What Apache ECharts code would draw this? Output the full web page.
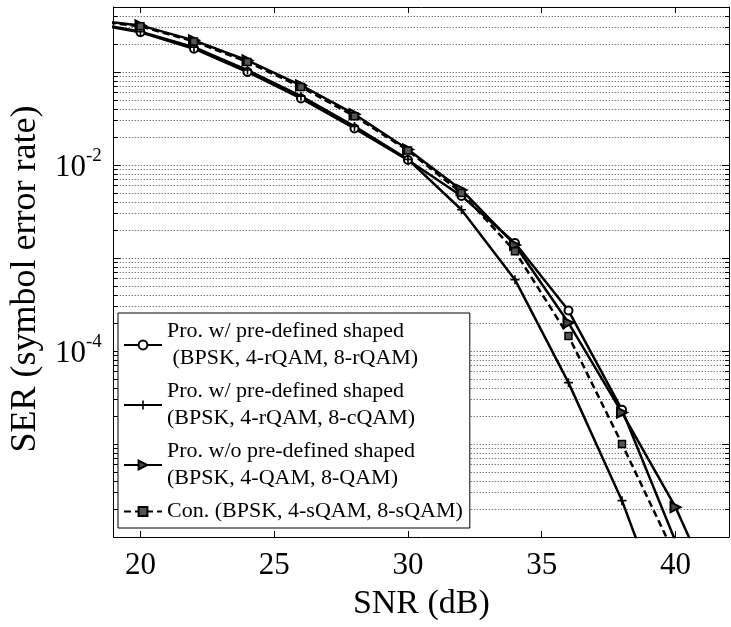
<!DOCTYPE html>
<html><head><meta charset="utf-8">
<script src="https://cdn.jsdelivr.net/npm/echarts@6/dist/echarts.min.js"></script>
<style>html,body{margin:0;padding:0;background:#fff}#c{width:731px;height:627px}</style>
</head><body><div id="c"></div>
<script>
const snr      = [18, 20, 22, 24, 26, 28, 30, 32, 34, 36, 38, 40, 42];
const serRQAM  = [0.339, 0.267, 0.178, 0.100, 0.052, 0.0247, 0.0113, 4.65e-3, 1.45e-3, 2.72e-4, 2.33e-5, 9e-7, 2e-8];
const serCQAM  = [0.345, 0.272, 0.185, 0.105, 0.055, 0.026, 0.0115, 3.3e-3, 5.85e-4, 4.57e-5, 2.46e-6, 7e-8, 1e-9];
const serQAM   = [0.367, 0.317, 0.219, 0.133, 0.072, 0.0352, 0.0147, 5.4e-3, 1.38e-3, 2.01e-4, 2.18e-5, 2.09e-6, 1.1e-7];
const serSQAM  = [0.36, 0.31, 0.213, 0.128, 0.069, 0.0335, 0.0143, 5.0e-3, 1.18e-3, 1.45e-4, 1.0e-5, 6.2e-7, 2e-8];
const seriesNames = [
  'Pro. w/ pre-defined shaped\n (BPSK, 4-rQAM, 8-rQAM)',
  'Pro. w/ pre-defined shaped\n(BPSK, 4-rQAM, 8-cQAM)',
  'Pro. w/o pre-defined shaped\n(BPSK, 4-QAM, 8-QAM)',
  'Con. (BPSK, 4-sQAM, 8-sQAM)'
];
const xTicks = [20, 25, 30, 35, 40];
const yLabelExps = [-2, -4];
const xRange = [19, 42];
const yRange = [1e-6, 0.5];

const FONT = 'Liberation Serif';
const GRID_STYLE = {color: '#444', width: 1, type: [1, 2]};
const minorGrid = [];
for (let e = -6; e <= -1; e++) for (let m = 2; m <= 9; m++) { const v = m * Math.pow(10, e); if (v < yRange[1]) minorGrid.push(v); }
const tickLen = 0.15;
const minorTicks = [];
minorGrid.forEach(v => {
  minorTicks.push([{coord: [xRange[0], v]}, {coord: [xRange[0] + tickLen, v]}]);
  minorTicks.push([{coord: [xRange[1] - tickLen, v]}, {coord: [xRange[1], v]}]);
});

const pair = arr => snr.map((x, i) => [x, arr[i]]);
const baseLine = {type: 'line', xAxisIndex: 0, yAxisIndex: 0, z: 3, clip: true,
  emphasis: {disabled: true}, silent: true};

const chart = echarts.init(document.getElementById('c'), null, {renderer: 'canvas'});
chart.setOption({
  animation: false,
  backgroundColor: '#fff',
  grid: {left: 112, right: 2, top: 7, bottom: 90, containLabel: false},
  legend: {
    left: 118, top: 313, orient: 'vertical',
    borderColor: '#000', borderWidth: 1, backgroundColor: '#fff',
    padding: [5, 7, 3, 5], itemGap: 6, itemWidth: 38, itemHeight: 11,
    textStyle: {fontFamily: FONT, fontSize: 22, lineHeight: 27, color: '#000'},
    data: seriesNames
  },
  xAxis: [
    {type: 'value', min: xRange[0], max: xRange[1], position: 'bottom',
     axisLine: {show: true, onZero: false, lineStyle: {color: '#000', width: 1}},
     axisTick: {show: true, inside: true, length: 6, customValues: xTicks, lineStyle: {color: '#000'}},
     axisLabel: {customValues: xTicks, margin: 13, fontFamily: FONT, fontSize: 31, color: '#000'},
     splitLine: {show: false},
     name: 'SNR (dB)', nameLocation: 'middle', nameGap: 50,
     nameTextStyle: {fontFamily: FONT, fontSize: 34, color: '#000'}},
    {type: 'value', min: xRange[0], max: xRange[1], position: 'top',
     axisLine: {show: true, onZero: false, lineStyle: {color: '#000', width: 1}},
     axisTick: {show: true, inside: true, length: 6, customValues: xTicks, lineStyle: {color: '#000'}},
     axisLabel: {show: false}, splitLine: {show: false}}
  ],
  yAxis: [
    {type: 'log', logBase: 10, min: yRange[0], max: yRange[1], position: 'left',
     axisLine: {show: true, onZero: false, lineStyle: {color: '#000', width: 1}},
     axisTick: {show: true, inside: true, length: 7, lineStyle: {color: '#000'}},
     axisLabel: {
       margin: 12,
       formatter: v => {
         const l = Math.log10(v), e = Math.round(l);
         return (Math.abs(l - e) < 1e-6 && yLabelExps.includes(e)) ? '{b|10}{s|' + e + '}' : '';
       },
       rich: {
         b: {fontFamily: FONT, fontSize: 31, color: '#000', verticalAlign: 'bottom', lineHeight: 36},
         s: {fontFamily: FONT, fontSize: 19, color: '#000', verticalAlign: 'top', lineHeight: 20}
       }
     },
     splitLine: {show: true, lineStyle: GRID_STYLE},
     name: 'SER (symbol error rate)', nameLocation: 'middle', nameGap: 64, nameRotate: 90,
     nameTextStyle: {fontFamily: FONT, fontSize: 36, color: '#000', padding: [0, 14, 0, 0]}},
    {type: 'log', logBase: 10, min: yRange[0], max: yRange[1], position: 'right',
     axisLine: {show: true, onZero: false, lineStyle: {color: '#000', width: 1}},
     axisTick: {show: true, inside: true, length: 7, lineStyle: {color: '#000'}},
     axisLabel: {show: false}, splitLine: {show: false}}
  ],
  series: [
    Object.assign({}, baseLine, {
      name: seriesNames[0], data: pair(serRQAM),
      symbol: 'emptyCircle', symbolSize: 8,
      itemStyle: {color: '#000', borderColor: '#000', borderWidth: 2},
      lineStyle: {color: '#000', width: 2.5},
      markLine: {silent: true, symbol: 'none', z: 1, animation: false, precision: 12,
        label: {show: false}, emphasis: {disabled: true},
        lineStyle: GRID_STYLE,
        data: minorGrid.map(v => ({yAxis: v}))}
    }),
    Object.assign({}, baseLine, {
      name: seriesNames[1], data: pair(serCQAM),
      symbol: 'path://M-0.9,-5 H0.9 V-0.9 H5 V0.9 H0.9 V5 H-0.9 V0.9 H-5 V-0.9 H-0.9 Z', symbolSize: 9,
      itemStyle: {color: '#000'},
      lineStyle: {color: '#000', width: 2.5},
      markLine: {silent: true, symbol: 'none', z: 2, animation: false, precision: 12,
        label: {show: false}, emphasis: {disabled: true},
        lineStyle: {color: '#000', width: 1, type: 'solid'},
        data: minorTicks}
    }),
    Object.assign({}, baseLine, {
      name: seriesNames[2], data: pair(serQAM),
      symbol: 'path://M0,0 L10,5 L0,10 Z', symbolSize: 10,
      itemStyle: {color: '#444', borderColor: '#000', borderWidth: 2},
      lineStyle: {color: '#000', width: 2.5}
    }),
    Object.assign({}, baseLine, {
      name: seriesNames[3], data: pair(serSQAM),
      symbol: 'rect', symbolSize: 7,
      itemStyle: {color: '#555', borderColor: '#000', borderWidth: 1.5},
      lineStyle: {color: '#000', width: 2.5, type: [7, 4]}
    })
  ]
});
</script></body></html>
